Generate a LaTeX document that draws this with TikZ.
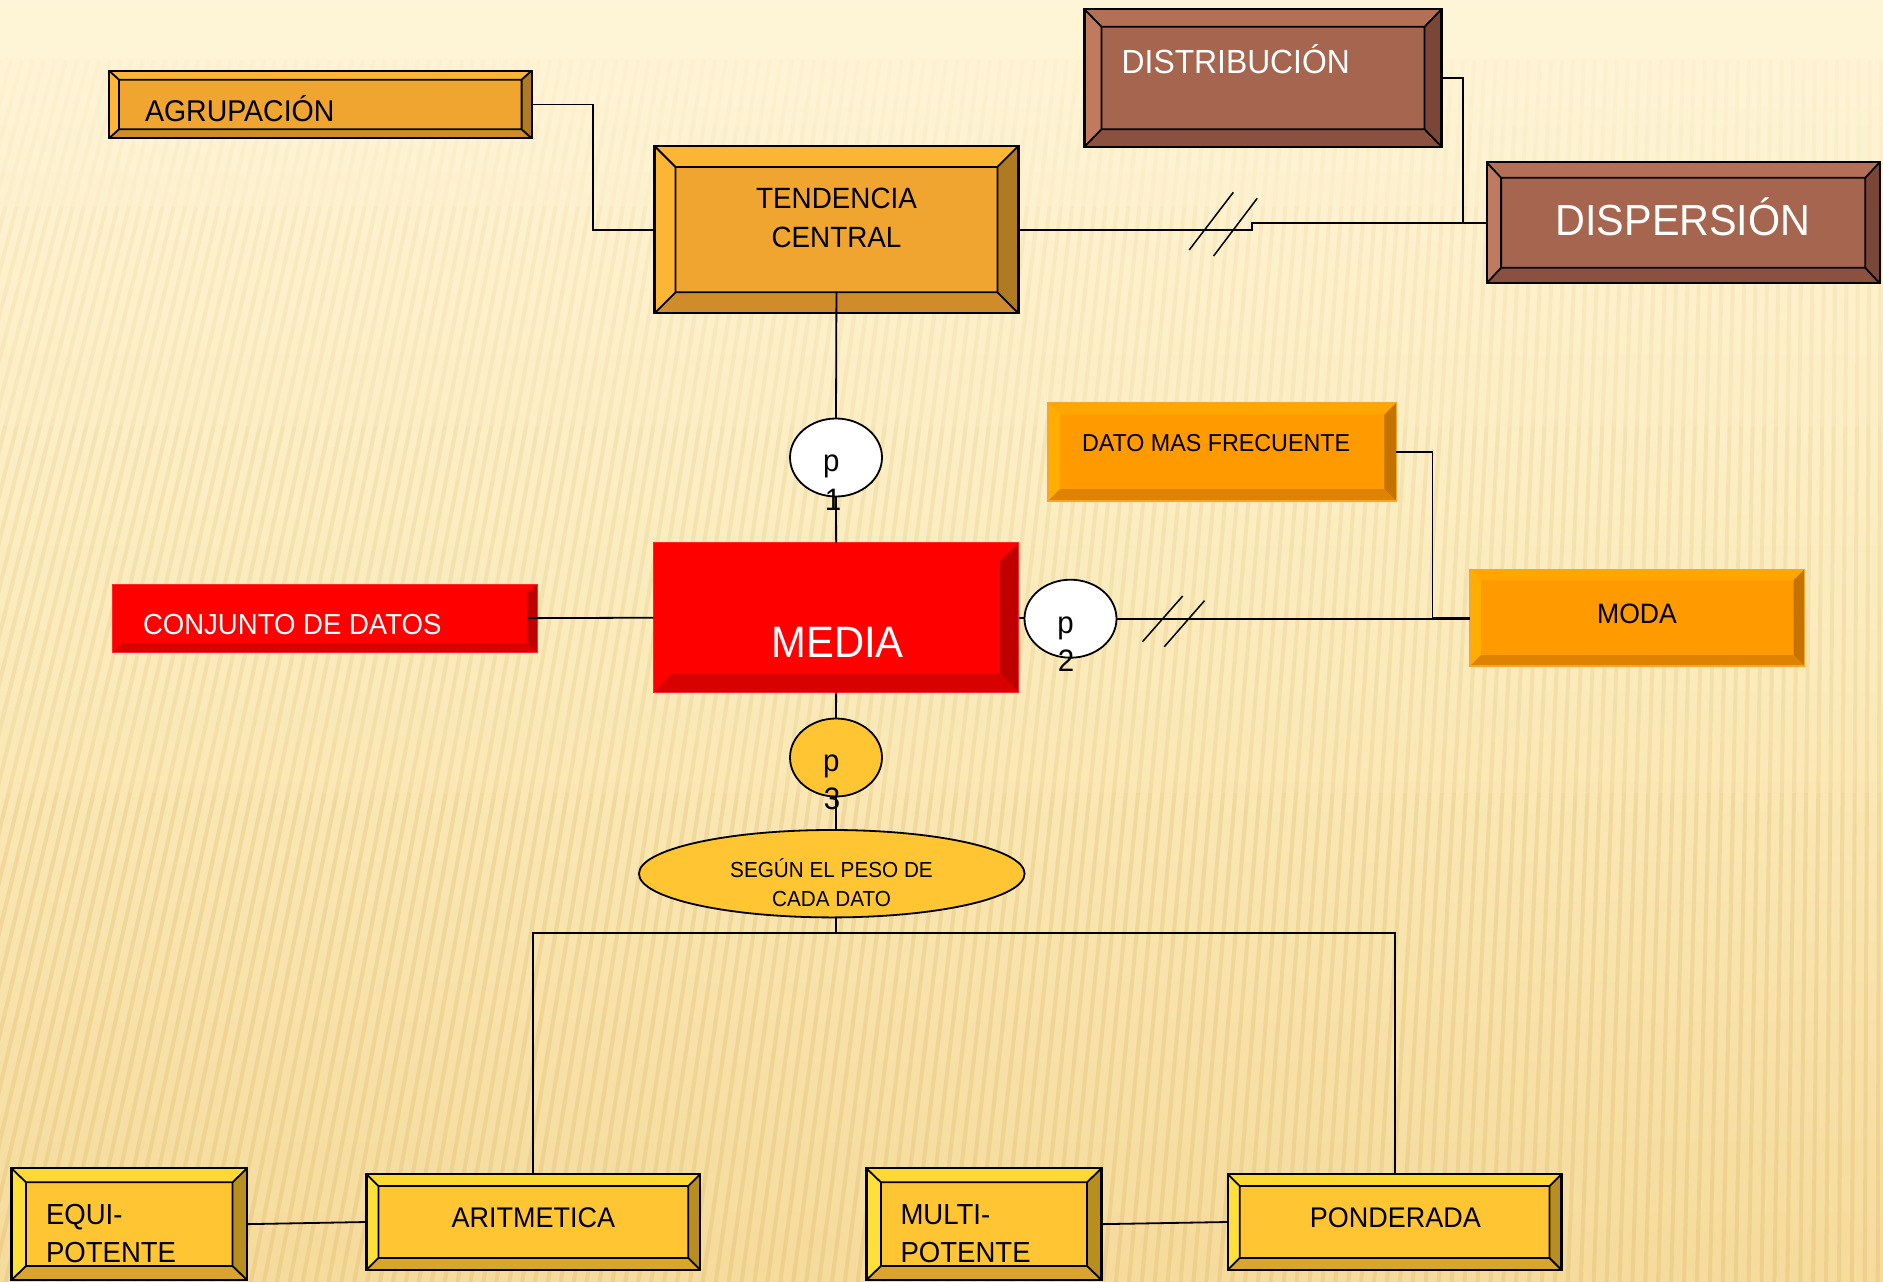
\documentclass[tikz,border=0pt]{standalone}
\usepackage{fontspec}
\setmainfont{Liberation Sans}[FakeStretch=0.95]
\usetikzlibrary{calc,shapes.geometric}
\definecolor{orgF}{HTML}{EFA530}\definecolor{orgT}{HTML}{FDB535}\definecolor{orgL}{HTML}{FDB535}\definecolor{orgR}{HTML}{B07A22}\definecolor{orgB}{HTML}{D08C2A}
\definecolor{brwF}{HTML}{A5654F}\definecolor{brwT}{HTML}{B46F57}\definecolor{brwL}{HTML}{BF7A5F}\definecolor{brwR}{HTML}{7A4637}\definecolor{brwB}{HTML}{8A5141}
\definecolor{o2F}{HTML}{FF9A00}\definecolor{o2T}{HTML}{FFA600}\definecolor{o2L}{HTML}{FFAE00}\definecolor{o2R}{HTML}{C47300}\definecolor{o2B}{HTML}{DE8300}\definecolor{o2D}{HTML}{F9A52B}
\definecolor{redF}{HTML}{FF0000}\definecolor{redT}{HTML}{FF0000}\definecolor{redL}{HTML}{FF0000}\definecolor{redR}{HTML}{BF0000}\definecolor{redB}{HTML}{D90000}
\definecolor{ylwF}{HTML}{FFC533}\definecolor{ylwT}{HTML}{FFD933}\definecolor{ylwL}{HTML}{FFE03A}\definecolor{ylwR}{HTML}{B88F1F}\definecolor{ylwB}{HTML}{D9A52A}
\definecolor{bgTop}{HTML}{FEF5D8}\definecolor{bgMid}{HTML}{FBEBBC}\definecolor{bgBot}{HTML}{F5DB9C}\definecolor{stripeC}{HTML}{D9AE55}
\newcommand\fs[1]{\fontsize{#1}{#1}\selectfont}
\tikzset{
  bx/.style={rectangle, inner sep=0pt, outer sep=0pt, anchor=north west},
  blk/.style={draw=black, line width=1.8pt},
  bev/.style n args={4}{fill=#3F,
    path picture={
      \path (path picture bounding box.north west) coordinate (pNW)
            (path picture bounding box.north east) coordinate (pNE)
            (path picture bounding box.south west) coordinate (pSW)
            (path picture bounding box.south east) coordinate (pSE);
      \path ([xshift=#1,yshift=-#2]pNW) coordinate (qNW)
            ([xshift=-#1,yshift=-#2]pNE) coordinate (qNE)
            ([xshift=#1,yshift=#2]pSW) coordinate (qSW)
            ([xshift=-#1,yshift=#2]pSE) coordinate (qSE);
      \fill[#3T] (pNW)--(pNE)--(qNE)--(qNW)--cycle;
      \fill[#3L] (pNW)--(qNW)--(qSW)--(pSW)--cycle;
      \fill[#3R] (pNE)--(pSE)--(qSE)--(qNE)--cycle;
      \fill[#3B] (pSW)--(qSW)--(qSE)--(pSE)--cycle;
      \path[#4] (qNW) rectangle (qSE) (pNW)--(qNW) (pNE)--(qNE) (pSW)--(qSW) (pSE)--(qSE);
    }},
  outl/.style={draw=black, line width=2.2pt},
  conn/.style={draw=black, line width=1.8pt},
  slash/.style={draw=black, line width=1.5pt},
  txt/.style={inner sep=0pt, outer sep=0pt},
  circ/.style={ellipse, inner sep=0pt, outer sep=0pt, minimum width=92, minimum height=78, draw=black, line width=1.8pt},
  stripe/.style={stripeC, line width=4pt}
}
\begin{document}
\begin{tikzpicture}[x=1pt,y=-1pt]
\useasboundingbox (0,0) rectangle (1883,1282);
% background
\shade[top color=bgTop, bottom color=bgBot, middle color=bgMid] (0,0) rectangle (1883,1282);
\begin{scope}
\clip (0,0) rectangle (1883,1282);
\foreach \i in {0,...,175}{
  \pgfmathsetmacro\xt{11*\i}
  \pgfmathsetmacro\xb{\xt-330*(1-\xt/1900)}
  \foreach \a/\b/\o in {0/0.12/0.05,0.12/0.3/0.11,0.3/0.6/0.17,0.6/1/0.24}{
    \draw[stripe, opacity=\o] ($(\xt,60)!\a!(\xb,1282)$) -- ($(\xt,60)!\b!(\xb,1282)$);
  }
}
\end{scope}

% boxes
\node[bx, bev={10}{9}{org}{blk}, outl, minimum width=422.6, minimum height=67.6] (agr) at (109,70.7) {};
\node[bx, bev={21}{21}{org}{blk}, outl, minimum width=363.9, minimum height=167.3] (ten) at (654.5,146) {};
\node[bx, bev={17}{17.5}{brw}{blk}, outl, minimum width=357, minimum height=137.4] (dis) at (1084.5,9.3) {};
\node[bx, bev={14.5}{15.5}{brw}{blk}, outl, minimum width=393.1, minimum height=121] (dsp) at (1486.6,162.3) {};
\node[bx, bev={12}{12}{o2}{draw=none}, draw=o2D, line width=1.5pt, minimum width=348.4, minimum height=98.3] (dato) at (1048,402.7) {};
\node[bx, bev={11}{11}{o2}{draw=none}, draw=o2D, line width=1.5pt, minimum width=334.5, minimum height=96.7] (moda) at (1470,569.3) {};
\node[bx, bev={10}{9}{red}{draw=none}, draw=red!85!white, line width=1pt, minimum width=425, minimum height=68.3] (conj) at (112.5,584) {};
\node[bx, bev={19}{19}{red}{draw=none}, draw=red!85!white, line width=1pt, minimum width=365.5, minimum height=150] (media) at (653.4,542.7) {};
\node[bx, bev={14.5}{14}{ylw}{blk}, outl, minimum width=235.5, minimum height=111.7] (equi) at (11.5,1168.3) {};
\node[bx, bev={12}{12}{ylw}{blk}, outl, minimum width=333.9, minimum height=96] (arit) at (366.4,1174) {};
\node[bx, bev={14.5}{14}{ylw}{blk}, outl, minimum width=235.1, minimum height=111.7] (mult) at (866.4,1168.3) {};
\node[bx, bev={12}{12}{ylw}{blk}, outl, minimum width=333.8, minimum height=96] (pond) at (1227.7,1174) {};

% circles and ellipse
\node[circ, fill=white] (p1) at (836,457.5) {};
\node[circ, fill=white] (p2) at (1070.5,618.7) {};
\node[circ, fill=ylwF] (p3) at (836,757.5) {};
\node[ellipse, inner sep=0pt, outer sep=0pt, minimum width=385.6, minimum height=87.4, draw=black, line width=1.8pt, fill=ylwF] (seg) at (831.8,873.7) {};
\coordinate (bus) at (836,933.3);

% connectors
\draw[conn] (agr.east) -- ++(61,0) |- (ten.west);
\draw[conn] (ten.east) -- ++(233.5,0) |- (dsp.west);
\draw[conn] (dis.east) -- ++(21.8,0) |- (dsp.west);
\draw[conn] ([yshift=21.6pt]ten.south) -- (p1.north);
\draw[conn] (p1.south) -- (media.north);
\draw[conn] ([xshift=-10pt]conj.east) -- (media.west);
\draw[conn] (media.east) -- (media.east -| p2.west);
\draw[conn] (p2.east) -- (p2.east -| moda.west);
\draw[conn] (dato.east) -- ++(36,0) |- (moda.west);
\draw[conn] (media.south) -- (p3.north);
\draw[conn] (p3.south) -- (p3.south |- seg.north);
\draw[conn] (p3.south |- seg.south) -- (bus);
\draw[conn] (arit.north) |- (bus) -| (pond.north);
\draw[conn] (equi.east) -- (arit.west);
\draw[conn] (mult.east) -- (pond.west);
% break marks
\draw[slash] (1189.2,250) -- (1233.3,192.3);
\draw[slash] (1213.6,256) -- (1257.2,198.3);
\draw[slash] (1142.5,641.7) -- (1182.7,596);
\draw[slash] (1164.3,646.7) -- (1204.5,600.7);

% texts
\node[txt, anchor=base west] (agrT) at (145,121) {\fs{30}AGRUPACIÓN};
\node[txt, anchor=base] (tenT1) at (836.5,208.3) {\fs{29.3}TENDENCIA};
\node[txt, anchor=base] (tenT2) at (836.5,247.3) {\fs{29.3}CENTRAL};
\node[txt, anchor=base west, text=white] (disT) at (1121.7,73.3) {\fs{33.5}DISTRIBUCIÓN};
\node[txt, anchor=base, text=white] (dspT) at (1683,235) {\fs{43.5}DISPERSIÓN};
\node[txt, anchor=base west] (datoT) at (1082,451.7) {\fs{24.5}DATO MAS FRECUENTE};
\node[txt, anchor=base] (modaT) at (1637,623.3) {\fs{28}MODA};
\node[txt, anchor=base west, text=white] (conjT) at (143,634) {\fs{29}CONJUNTO DE DATOS};
\node[txt, anchor=base, text=white] (mediaT) at (837.6,657.3) {\fs{44}MEDIA};
\node[txt, anchor=base] (p1a) at (831.4,471.7) {\fs{31}p};
\node[txt, anchor=base] (p1b) at (833,510) {\fs{31}1};
\node[txt, anchor=base] (p2a) at (1065.6,633) {\fs{31}p};
\node[txt, anchor=base] (p2b) at (1066,671.7) {\fs{31}2};
\node[txt, anchor=base] (p3a) at (831.4,771.7) {\fs{31}p};
\node[txt, anchor=base] (p3b) at (832,809.3) {\fs{31}3};
\node[txt, anchor=base] (segT1) at (831.5,877.3) {\fs{21.8}SEGÚN EL PESO DE};
\node[txt, anchor=base] (segT2) at (831.5,906) {\fs{21.8}CADA DATO};
\node[txt, anchor=base west] (equiT1) at (46,1224) {\fs{29}EQUI-};
\node[txt, anchor=base west] (equiT2) at (46,1262.7) {\fs{29}POTENTE};
\node[txt, anchor=base] (aritT) at (533.4,1227.7) {\fs{28.4}ARITMETICA};
\node[txt, anchor=base west] (multT1) at (900.5,1224) {\fs{29}MULTI-};
\node[txt, anchor=base west] (multT2) at (900.5,1262.7) {\fs{29}POTENTE};
\node[txt, anchor=base] (pondT) at (1395.3,1227.7) {\fs{28.4}PONDERADA};
\end{tikzpicture}
\end{document}
